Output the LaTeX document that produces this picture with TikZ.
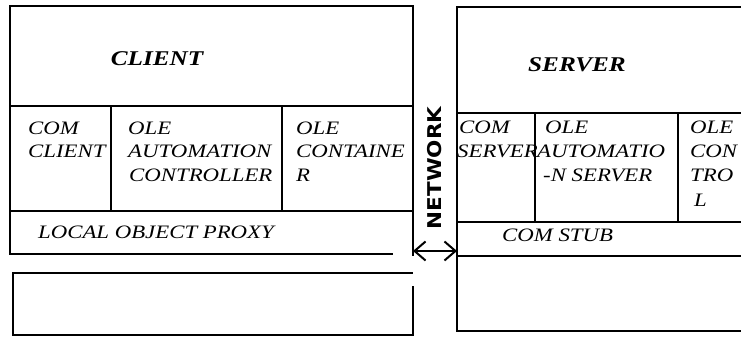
\documentclass[tikz,border=0pt]{standalone}
\usepackage{fontspec}
\usetikzlibrary{arrows.meta}
\newfontfamily\labelfont{Liberation Serif}[FakeStretch=1.2]
\newfontfamily\netfont{DejaVu Sans}[FakeStretch=1.13]
\tikzset{
  frame/.style={line width=1.25pt, line cap=rect},
  celltext/.style={anchor=base west, inner sep=0pt,
    font=\labelfont\itshape\fontsize{19}{19}\selectfont},
  headtext/.style={anchor=base, inner sep=0pt,
    font=\labelfont\bfseries\itshape\fontsize{21}{21}\selectfont},
  nettext/.style={inner sep=0pt, rotate=90,
    font=\netfont\bfseries\fontsize{19}{19}\selectfont},
  link/.style={line width=2pt,
    {Straight Barb[length=11pt,width=19pt]}-{Straight Barb[length=11pt,width=19pt]}}
}
\begin{document}
\begin{tikzpicture}[x=1pt,y=-1pt]
\useasboundingbox (0,0) rectangle (741,339);
\fill[white] (0,0) rectangle (741,339);

% ---- client side frames ----
\draw[frame] (10,6) -- (413,6);
\draw[frame] (10,6) -- (10,254);
\draw[frame] (413,6) -- (413,255);
\draw[frame] (10,106) -- (413,106);
\draw[frame] (10,211) -- (413,211);
\draw[frame] (111,106) -- (111,211);
\draw[frame] (282,106) -- (282,211);
\draw[frame] (10,254) -- (392,254);
% empty box below the client
\draw[frame] (413,287) -- (413,335) -- (13,335) -- (13,273) -- (412,273);

% ---- server side frames ----
\draw[frame] (741,7) -- (457,7) -- (457,331) -- (741,331);
\draw[frame] (457,113) -- (741,113);
\draw[frame] (457,222) -- (741,222);
\draw[frame] (535,113) -- (535,222);
\draw[frame] (678,113) -- (678,222);
\draw[frame] (457,256) -- (741,256);

% ---- headings ----
\node[headtext] (client) at (157,66) {CLIENT};
\node[headtext] (server) at (577,72) {SERVER};

% ---- client cells ----
\node[celltext] (comcA) at (28,135) {COM};
\node[celltext] (comcB) at (28,158) {CLIENT};
\node[celltext] (oleacA) at (128,135) {OLE};
\node[celltext] (oleacB) at (128,158) {AUTOMATION};
\node[celltext] (oleacC) at (129,182) {CONTROLLER};
\node[celltext] (olecA) at (296,135) {OLE};
\node[celltext] (olecB) at (296,158) {CONTAINE};
\node[celltext] (olecC) at (296,182) {R};
\node[celltext] (proxy) at (38,238) {LOCAL OBJECT PROXY};

% ---- server cells ----
\node[celltext] (comsA) at (459,134) {COM};
\node[celltext] (comsB) at (457,158) {SERVER};
\node[celltext] (oleasA) at (545,134) {OLE};
\node[celltext] (oleasB) at (537,158) {AUTOMATIO};
\node[celltext] (oleasC) at (543,182) {-N SERVER};
\node[celltext] (olectA) at (690,134) {OLE};
\node[celltext] (olectB) at (690,158) {CON};
\node[celltext] (olectC) at (690,182) {TRO};
\node[celltext] (olectD) at (694,206) {L};
\node[celltext] (stub) at (502,241) {COM STUB};

% ---- network link ----
\node[nettext] (network) at (435,168) {NETWORK};
\coordinate (netL) at (413,251);
\coordinate (netR) at (457,251);
\draw[link] (netL) -- (netR);
\end{tikzpicture}
\end{document}
